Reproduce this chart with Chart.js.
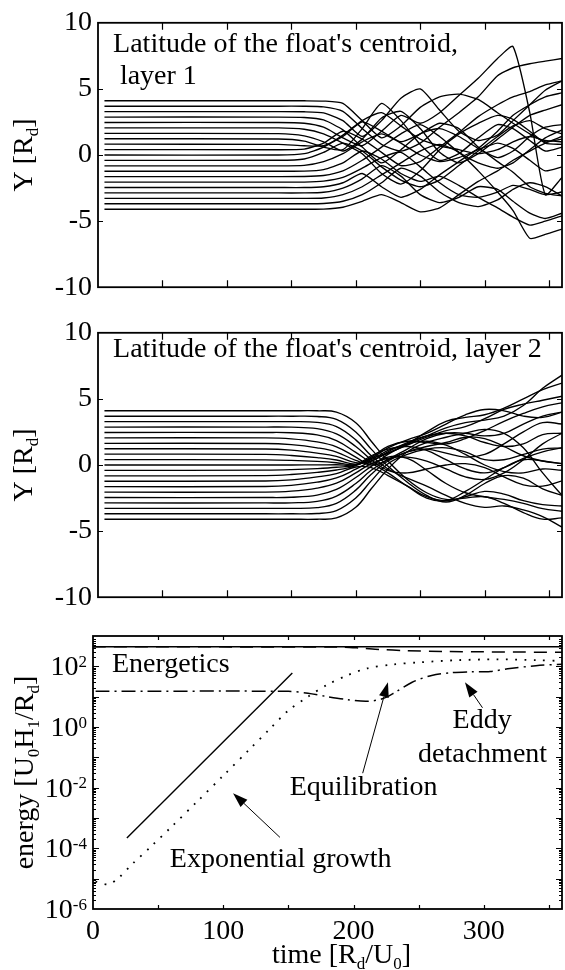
<!DOCTYPE html>
<html>
<head>
<meta charset="utf-8">
<script src="https://cdn.jsdelivr.net/npm/chart.js@4.4.1/dist/chart.umd.min.js"></script>
<style>
  html, body { margin: 0; padding: 0; background: #fff; }
  #wrap { position: relative; width: 565px; height: 970px; overflow: hidden; }
  #wrap canvas { position: absolute; left: 0; }
</style>
</head>
<body>
<div id="wrap">
  <canvas id="layer1" width="565" height="310" style="top:0px"></canvas>
  <canvas id="layer2" width="565" height="310" style="top:310px"></canvas>
  <canvas id="energy" width="565" height="350" style="top:620px"></canvas>
</div>
<script>
// Float centroid latitude, layer 1 (21 floats)
const time1 = [5, 140, 160, 175, 190, 205, 220, 235, 250, 265, 280, 295, 310, 322, 335, 347, 360];
const layer1Floats = [
  [4.10, 4.10, 4.10, 4.08, 3.90, 2.60, 1.30, 2.20, 3.60, 4.40, 4.60, 4.20, 3.20, 2.40, 1.60, 1.00, 1.20],
  [3.69, 3.69, 3.69, 3.64, 3.30, 2.00, 0.80, 0.30, 0.90, 2.10, 3.20, 4.40, 6.00, 6.60, 6.90, 7.10, 7.30],
  [3.28, 3.28, 3.27, 3.18, 2.60, 1.40, 2.60, 4.30, 5.00, 3.40, 1.80, 1.10, 1.50, 2.60, 3.80, 4.90, 5.60],
  [2.87, 2.87, 2.84, 2.65, 1.90, 0.60, -0.60, 0.40, 1.60, 2.00, 1.40, 0.50, -0.20, 0.30, 1.40, 2.10, 2.30],
  [2.46, 2.46, 2.40, 2.10, 1.30, 0.70, 1.80, 3.00, 2.40, 3.20, 4.50, 5.80, 7.30, 8.20, 3.20, -3.00, -1.70],
  [2.05, 2.05, 1.95, 1.60, 0.90, 0.10, -1.40, -2.20, -1.20, 0.40, 1.60, 2.40, 3.00, 2.70, 1.80, 0.90, 0.80],
  [1.64, 1.62, 1.45, 1.00, 0.30, 1.20, 2.80, 3.30, 2.00, 0.20, -0.60, 0.10, 1.20, 2.10, 3.00, 3.40, 3.80],
  [1.23, 1.21, 1.05, 0.60, 0.40, 2.00, 3.90, 2.60, 0.80, -0.40, 0.10, 1.30, 2.30, 2.00, 1.10, 0.30, 0.60],
  [0.82, 0.80, 0.70, 0.70, 1.40, 2.50, 1.80, 1.00, 1.60, 2.40, 2.00, 0.60, -0.50, -1.30, -2.40, -2.90, -3.10],
  [0.41, 0.40, 0.45, 0.90, 1.80, 1.20, 0.20, -0.80, -0.50, 0.60, 1.70, 2.90, 3.80, 4.40, 4.80, 5.30, 5.60],
  [0.00, 0.00, 0.10, 0.60, 1.50, 2.60, 3.20, 2.20, 1.20, 0.70, 0.40, 0.10, 0.40, 1.00, 1.40, 1.10, 1.00],
  [-0.41, -0.40, -0.30, 0.20, 0.90, 0.30, -0.90, -1.90, -2.40, -1.90, -0.80, 0.30, 1.40, 2.20, 2.60, 2.00, 1.60],
  [-0.82, -0.82, -0.78, -0.50, 0.10, 1.00, 1.60, 0.90, 0.00, -0.50, -0.20, 0.40, 0.90, 0.50, -0.40, -1.20, -0.90],
  [-1.23, -1.23, -1.22, -1.10, -0.60, 0.30, -0.30, -1.40, -2.00, -1.60, -2.30, -3.20, -4.00, -4.70, -5.30, -5.00, -4.60],
  [-1.64, -1.64, -1.63, -1.55, -1.20, -0.40, 0.60, 1.60, 2.30, 1.40, 0.20, -0.60, -1.00, -0.60, 0.40, 1.30, 1.90],
  [-2.05, -2.05, -2.05, -1.98, -1.70, -1.00, -0.20, 0.20, -0.90, -2.10, -3.00, -3.20, -2.80, -2.30, -2.60, -3.00, -2.80],
  [-2.46, -2.46, -2.46, -2.40, -2.10, -1.40, -2.40, -3.20, -2.60, -1.50, -0.50, 0.50, 1.80, 3.00, 3.80, 4.40, 4.70],
  [-2.87, -2.87, -2.87, -2.82, -2.50, -1.80, -0.80, -1.60, -3.00, -3.60, -3.20, -2.40, -2.60, -3.50, -4.40, -4.80, -4.40],
  [-3.28, -3.28, -3.28, -3.25, -3.00, -2.40, -1.50, -0.60, 0.30, 0.80, 0.20, -1.20, -2.80, -4.20, -6.30, -6.00, -5.60],
  [-3.69, -3.69, -3.69, -3.67, -3.50, -3.00, -2.10, -1.00, -1.60, -2.80, -3.60, -3.90, -3.40, -2.60, -2.10, -2.40, -3.10],
  [-4.10, -4.10, -4.10, -4.09, -3.95, -3.50, -3.00, -3.60, -4.30, -4.00, -3.00, -2.00, -1.20, -0.40, 0.30, 0.90, 1.40]
];

// Float centroid latitude, layer 2
const time2 = [5, 130, 150, 170, 185, 200, 212, 225, 240, 255, 270, 285, 300, 315, 330, 345, 360];
const layer2Floats = [
  [4.10, 4.10, 4.10, 4.10, 4.00, 3.20, 1.80, 0.30, -1.10, -2.10, -2.60, -2.50, -2.40, -2.90, -3.60, -4.10, -4.00],
  [3.69, 3.69, 3.69, 3.67, 3.45, 2.50, 1.20, -0.10, -1.30, -2.30, -2.80, -2.30, -1.40, -0.80, -1.00, -1.80, -2.30],
  [3.28, 3.28, 3.28, 3.22, 2.90, 1.90, 0.70, -0.30, -1.00, -1.60, -2.30, -2.90, -3.20, -3.10, -3.40, -3.90, -4.70],
  [2.87, 2.87, 2.86, 2.75, 2.35, 1.40, 0.40, -0.40, -0.60, -0.30, 0.00, 0.10, -0.20, -0.90, -1.50, -1.60, -1.20],
  [2.46, 2.46, 2.44, 2.28, 1.85, 0.95, 0.15, -0.60, -1.60, -2.50, -2.70, -2.00, -1.10, -0.20, 0.40, 0.30, 0.10],
  [2.05, 2.05, 1.98, 1.75, 1.38, 0.60, 0.00, 0.40, 1.00, 1.20, 0.90, 0.60, 0.80, 1.60, 2.50, 3.20, 3.10],
  [1.64, 1.63, 1.54, 1.30, 0.98, 0.35, 0.10, 0.80, 1.60, 2.20, 2.80, 3.20, 3.40, 3.70, 4.50, 5.80, 6.80],
  [1.23, 1.21, 1.12, 0.90, 0.65, 0.18, 0.30, 1.00, 1.70, 2.20, 2.40, 2.20, 1.70, 1.40, 1.60, 2.30, 2.40],
  [0.82, 0.80, 0.72, 0.56, 0.38, 0.06, 0.40, 1.10, 1.60, 1.80, 1.50, 0.80, 0.00, -0.50, -0.60, -0.30, -0.40],
  [0.41, 0.39, 0.35, 0.27, 0.17, 0.02, 0.50, 1.30, 1.90, 2.40, 3.10, 3.80, 4.20, 4.10, 3.70, 3.60, 4.00],
  [0.00, 0.00, 0.00, 0.01, 0.02, 0.03, 0.60, 1.40, 1.80, 1.70, 1.60, 2.00, 2.60, 3.30, 3.90, 4.40, 4.70],
  [-0.41, -0.39, -0.35, -0.27, -0.17, 0.00, 0.70, 1.20, 1.40, 1.10, 0.40, -0.30, -0.60, -0.20, 0.50, 1.00, 1.30],
  [-0.82, -0.80, -0.72, -0.56, -0.38, -0.04, 0.50, 0.90, 1.60, 2.50, 3.30, 3.60, 3.80, 4.30, 5.00, 5.70, 6.20],
  [-1.23, -1.21, -1.12, -0.90, -0.65, -0.15, -0.20, -0.80, -1.60, -2.40, -2.70, -2.40, -2.00, -2.20, -2.70, -3.00, -3.10],
  [-1.64, -1.63, -1.54, -1.30, -0.98, -0.32, 0.30, 0.90, 1.50, 2.10, 2.60, 2.90, 3.50, 4.20, 4.60, 4.90, 5.20],
  [-2.05, -2.05, -1.98, -1.75, -1.38, -0.60, 0.10, 0.50, 0.60, 0.30, -0.30, -0.90, -1.10, -0.60, 0.40, 1.60, 2.40],
  [-2.46, -2.46, -2.44, -2.28, -1.85, -0.95, -0.10, 0.60, 0.50, -0.40, -1.40, -2.10, -2.40, -2.60, -2.90, -3.30, -3.50],
  [-2.87, -2.87, -2.86, -2.75, -2.35, -1.40, -0.40, 0.40, 1.20, 2.00, 2.40, 2.40, 2.20, 2.40, 3.10, 3.70, 4.00],
  [-3.28, -3.28, -3.28, -3.22, -2.90, -1.90, -0.70, 0.30, 1.00, 1.40, 1.70, 2.10, 2.00, 1.40, 0.70, 0.30, 0.10],
  [-3.69, -3.69, -3.69, -3.67, -3.45, -2.50, -1.20, 0.10, 0.80, 1.20, 1.30, 1.00, 0.40, 0.40, 0.80, 1.20, 1.30],
  [-4.10, -4.10, -4.10, -4.10, -4.00, -3.20, -1.80, -0.30, 1.00, 1.70, 2.10, 2.40, 2.70, 2.40, 1.30, -0.60, -2.30]
];

// Energetics (log scale)
const timeMean = [0, 360];
const energyMean = [440, 440];
const timeDashed = [0, 190, 205, 220, 240, 270, 300, 330, 360];
const energyDashed = [440, 430, 400, 360, 330, 310, 300, 295, 290];
const timeEddy = [2, 12, 20, 30, 45, 60, 80, 100, 120, 135, 150, 165, 180, 195, 210, 230, 250, 280, 310, 340, 360];
const energyEddy = [8e-6, 6.5e-6, 1.1e-5, 3e-5, 1.2e-4, 5e-4, 3.5e-3, 2.5e-2, 0.18, 0.8, 3.5, 10, 25, 50, 85, 115, 135, 160, 170, 160, 150];
const timeDashDot = [2, 150, 165, 180, 195, 210, 222, 232, 245, 260, 275, 290, 305, 320, 340, 360];
const energyDashDot = [15, 15, 13, 10, 8, 7, 8.5, 14, 30, 50, 62, 66, 68, 85, 105, 118];
const timeGrowth = [26, 153];
const energyGrowth = [2.2e-4, 60];

const logLabelExps = [-6, -4, -2, 0, 2];
const timeLabels = [0, 100, 200, 300];

const SERIF = "'Liberation Serif', 'Times New Roman', serif";
const FS = 28;

// tiny markup: _x / _{..} subscript, ^x / ^{..} superscript
function parseRich(s) {
    const parts = [];
    let buf = '', i = 0;
    while (i < s.length) {
        const c = s[i];
        if (c === '_' || c === '^') {
            if (buf) { parts.push({ t: buf }); buf = ''; }
            let arg;
            if (s[i + 1] === '{') {
                const j = s.indexOf('}', i);
                arg = s.slice(i + 2, j);
                i = j + 1;
            } else {
                arg = s[i + 1];
                i += 2;
            }
            parts.push({ t: arg, sub: c === '_', sup: c === '^' });
        } else {
            buf += c;
            i++;
        }
    }
    if (buf) parts.push({ t: buf });
    return parts;
}

function partFont(p, size) {
    return (p.sub || p.sup ? Math.round(size * 0.62) : size) + 'px ' + SERIF;
}

function richWidth(ctx, parts, size) {
    let w = 0;
    parts.forEach(p => { ctx.font = partFont(p, size); w += ctx.measureText(p.t).width; });
    return w;
}

function drawRich(ctx, s, x, y, size) {
    const parts = parseRich(s);
    let cx = x;
    ctx.textBaseline = 'alphabetic';
    ctx.textAlign = 'left';
    parts.forEach(p => {
        ctx.font = partFont(p, size);
        const dy = p.sub ? size * 0.22 : p.sup ? -size * 0.3 : 0;
        ctx.fillText(p.t, cx, y + dy);
        cx += ctx.measureText(p.t).width;
    });
    return cx - x;
}

function drawArrow(ctx, x0, y0, x1, y1) {
    const ang = Math.atan2(y1 - y0, x1 - x0);
    const L = 15, W = 5;
    const bx = x1 - L * Math.cos(ang), by = y1 - L * Math.sin(ang);
    ctx.lineWidth = 1;
    ctx.beginPath();
    ctx.moveTo(x0, y0);
    ctx.lineTo(bx, by);
    ctx.stroke();
    ctx.beginPath();
    ctx.moveTo(x1, y1);
    ctx.lineTo(bx + W * Math.sin(ang), by - W * Math.cos(ang));
    ctx.lineTo(bx - W * Math.sin(ang), by + W * Math.cos(ang));
    ctx.closePath();
    ctx.fill();
}

// box, inward ticks, titles and annotations
function frameOverlay(cfg) {
    return {
        id: 'frameOverlay',
        afterDatasetsDraw(chart) {
            const { ctx, chartArea: a } = chart;
            const x = chart.scales.x, y = chart.scales.y;
            ctx.save();
            ctx.strokeStyle = '#000';
            ctx.fillStyle = '#000';

            ctx.lineWidth = 1.2;
            ctx.beginPath();
            x.ticks.forEach(t => {
                const px = Math.round(x.getPixelForValue(t.value)) + 0.5;
                if (px <= a.left + 2 || px >= a.right - 2) return;
                ctx.moveTo(px, a.bottom); ctx.lineTo(px, a.bottom - cfg.xTickLen);
                ctx.moveTo(px, a.top); ctx.lineTo(px, a.top + cfg.xTickLen);
            });
            y.ticks.forEach(t => {
                const py = Math.round(y.getPixelForValue(t.value)) + 0.5;
                if (py <= a.top + 2 || py >= a.bottom - 2) return;
                const len = t.major === false ? cfg.minorLen : cfg.yTickLen;
                ctx.moveTo(a.left, py); ctx.lineTo(a.left + len, py);
                ctx.moveTo(a.right, py); ctx.lineTo(a.right - len, py);
            });
            ctx.stroke();

            ctx.lineWidth = 1.8;
            ctx.strokeRect(a.left, a.top, a.right - a.left, a.bottom - a.top);

            (cfg.logLabels || []).forEach(e => {
                const s = '10^{' + e + '}';
                const w = richWidth(ctx, parseRich(s), FS);
                drawRich(ctx, s, a.left - 6 - w, y.getPixelForValue(Math.pow(10, e)) + 9, FS);
            });

            (cfg.notes || []).forEach(n => {
                drawRich(ctx, n.s, x.getPixelForValue(n.at[0]), y.getPixelForValue(n.at[1]), FS);
            });

            (cfg.arrows || []).forEach(r => {
                drawArrow(ctx,
                    x.getPixelForValue(r.from[0]), y.getPixelForValue(r.from[1]),
                    x.getPixelForValue(r.to[0]), y.getPixelForValue(r.to[1]));
            });

            if (cfg.yTitle) {
                const w = richWidth(ctx, parseRich(cfg.yTitle.s), FS);
                ctx.save();
                ctx.translate(cfg.yTitle.x, (a.top + a.bottom) / 2);
                ctx.rotate(-Math.PI / 2);
                drawRich(ctx, cfg.yTitle.s, -w / 2, 0, FS);
                ctx.restore();
            }
            if (cfg.xTitle) {
                drawRich(ctx, cfg.xTitle.s, cfg.xTitle.x, cfg.xTitle.y, FS);
            }
            ctx.restore();
        }
    };
}

function latitudeChart(id, times, floats, cfg) {
    return new Chart(document.getElementById(id), {
        type: 'line',
        data: {
            datasets: floats.map(ys => ({
                data: times.map((t, i) => ({ x: t, y: ys[i] })),
                borderColor: '#000',
                borderWidth: 1.35,
                pointRadius: 0,
                tension: cfg.tension,
                fill: false
            }))
        },
        options: {
            responsive: false,
            animation: false,
            events: [],
            layout: { padding: { left: 0, right: 3, top: cfg.top, bottom: 0 } },
            plugins: { legend: { display: false }, tooltip: { enabled: false } },
            scales: {
                x: {
                    type: 'linear', min: 0, max: 360,
                    ticks: { display: false, stepSize: 50, includeBounds: false },
                    grid: { display: false, drawTicks: false },
                    border: { display: false },
                    afterFit: s => { s.height = cfg.bottomGap; }
                },
                y: {
                    type: 'linear', min: -10, max: 10,
                    ticks: { stepSize: 5, color: '#000', padding: 6, font: { family: SERIF, size: FS } },
                    grid: { display: false, drawTicks: false },
                    border: { display: false },
                    afterFit: s => { s.width = 98; }
                }
            }
        },
        plugins: [frameOverlay(cfg)]
    });
}

latitudeChart('layer1', time1, layer1Floats, {
    top: 20, bottomGap: 16, tension: 0.2, xTickLen: 7, yTickLen: 5,
    yTitle: { s: 'Y [R_d]', x: 32 },
    notes: [
        { s: "Latitude of the float's centroid,", at: [11.7, 7.8] },
        { s: 'layer 1', at: [17, 5.4] }
    ]
});

latitudeChart('layer2', time2, layer2Floats, {
    top: 17, bottomGap: 17, tension: 0.4, xTickLen: 7, yTickLen: 5,
    yTitle: { s: 'Y [R_d]', x: 32 },
    notes: [
        { s: "Latitude of the float's centroid, layer 2", at: [11.7, 8.15] }
    ]
});

function energyLine(times, values, dash, width, tension) {
    return {
        data: times.map((t, i) => ({ x: t, y: values[i] })),
        borderColor: '#000',
        borderWidth: width,
        borderDash: dash,
        pointRadius: 0,
        tension: tension,
        fill: false
    };
}

new Chart(document.getElementById('energy'), {
    type: 'line',
    data: {
        datasets: [
            energyLine(timeMean, energyMean, [], 1.4, 0),
            energyLine(timeDashed, energyDashed, [13, 8], 1.5, 0.3),
            energyLine(timeEddy, energyEddy, [1.8, 7.5], 1.8, 0.3),
            energyLine(timeDashDot, energyDashDot, [14, 5, 2, 5], 1.5, 0.3),
            energyLine(timeGrowth, energyGrowth, [], 1.4, 0)
        ]
    },
    options: {
        responsive: false,
        animation: false,
        events: [],
        layout: { padding: { left: 0, right: 3, top: 16, bottom: 0 } },
        plugins: { legend: { display: false }, tooltip: { enabled: false } },
        scales: {
            x: {
                type: 'linear', min: 0, max: 360,
                ticks: {
                    stepSize: 50, includeBounds: false, autoSkip: false, maxRotation: 0,
                    padding: 6, color: '#000', font: { family: SERIF, size: FS },
                    callback: v => timeLabels.includes(v) ? v : ''
                },
                grid: { display: false, drawTicks: false },
                border: { display: false },
                afterFit: s => { s.height = 61; }
            },
            y: {
                type: 'logarithmic', min: 1e-6, max: 1e3,
                ticks: { display: false },
                grid: { display: false, drawTicks: false },
                border: { display: false },
                afterBuildTicks: s => {
                    const ticks = [];
                    for (let e = -6; e <= 3; e++) {
                        for (let m = 1; m <= 9; m++) {
                            const v = m * Math.pow(10, e);
                            if (v <= 1e3) ticks.push({ value: v, major: m === 1 });
                        }
                    }
                    s.ticks = ticks;
                },
                afterFit: s => { s.width = 93; }
            }
        }
    },
    plugins: [frameOverlay({
        xTickLen: 4, yTickLen: 6, minorLen: 3,
        logLabels: logLabelExps,
        yTitle: { s: 'energy [U_0H_1/R_d]', x: 33 },
        xTitle: { s: 'time [R_d/U_0]', x: 272, y: 343 },
        notes: [
            { s: 'Energetics', at: [14.6, 65] },
            { s: 'Eddy', at: [276, 0.93] },
            { s: 'detachment', at: [249.5, 0.071] },
            { s: 'Equilibration', at: [151, 5.8e-3] },
            { s: 'Exponential growth', at: [59, 2.4e-5] }
        ],
        arrows: [
            { from: [143.5, 2.3e-4], to: [107.5, 6.6e-3] },
            { from: [207, 0.030], to: [226.4, 30] },
            { from: [299, 4.3], to: [285.5, 30] }
        ]
    })]
});
</script>
</body>
</html>
